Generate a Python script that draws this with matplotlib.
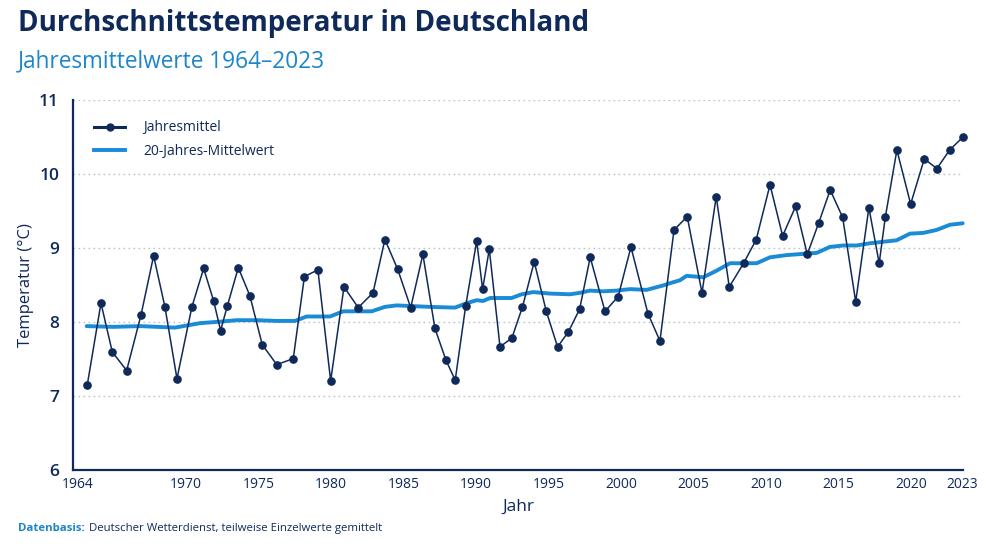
import matplotlib
matplotlib.use("Agg")
import matplotlib.pyplot as plt
from matplotlib.lines import Line2D

NAVY = "#0f2a5a"
BLUE = "#1a8bd6"
SUB_BLUE = "#1d86c9"
GRID = "#b9c2cf"

# annual means (positions, in year units)
years = [1963.19, 1964.14, 1964.92, 1965.91, 1966.90, 1967.77, 1968.55, 1969.38,
         1970.41, 1971.22, 1971.91, 1972.39, 1972.85, 1973.61, 1974.41, 1975.26,
         1976.26, 1977.40, 1978.17, 1979.10, 1979.98, 1980.90, 1981.88, 1982.90,
         1983.72, 1984.60, 1985.50, 1986.34, 1987.17, 1987.93, 1988.57, 1989.29,
         1990.05, 1990.46, 1990.92, 1991.66, 1992.48, 1993.21, 1994.02, 1994.85,
         1995.63, 1996.37, 1997.15, 1997.88, 1998.90, 1999.81, 2000.69, 2001.86,
         2002.69, 2003.66, 2004.57, 2005.59, 2006.57, 2007.47, 2008.46, 2009.33,
         2010.28, 2011.15, 2012.05, 2012.85, 2013.63, 2014.43, 2015.29, 2016.19,
         2017.10, 2017.81, 2018.23, 2019.03, 2019.98, 2020.92, 2021.79, 2022.67,
         2023.61]
temps = [7.14, 8.25, 7.59, 7.34, 8.09, 8.89, 8.20, 7.23,
         8.20, 8.72, 8.28, 7.88, 8.21, 8.73, 8.35, 7.69,
         7.42, 7.50, 8.61, 8.70, 7.20, 8.47, 8.19, 8.39,
         9.11, 8.71, 8.19, 8.91, 7.91, 7.48, 7.21, 8.21,
         9.09, 8.44, 8.98, 7.66, 7.78, 8.20, 8.81, 8.14,
         7.66, 7.86, 8.17, 8.87, 8.14, 8.34, 9.01, 8.11,
         7.74, 9.24, 9.42, 8.39, 9.69, 8.47, 8.79, 9.11,
         9.85, 9.16, 9.56, 8.91, 9.33, 9.78, 9.41, 8.27,
         9.54, 8.79, 9.41, 10.32, 9.59, 10.20, 10.07, 10.32,
         10.50]

# 20-year running mean
trend_years = [1963.15, 1964.97, 1966.83, 1969.24, 1970.97, 1972.34, 1973.50, 1974.88,
               1976.26, 1977.52, 1978.32, 1979.93, 1980.85, 1982.81, 1983.72, 1984.53,
               1986.83, 1988.55, 1989.36, 1990.05, 1990.50, 1990.97, 1992.46, 1993.15,
               1993.95, 1995.10, 1996.48, 1997.17, 1997.86, 1998.78, 1999.70, 2000.62,
               2001.77, 2002.92, 2003.38, 2004.07, 2004.53, 2005.68, 2006.60, 2007.52,
               2009.36, 2010.28, 2011.43, 2012.81, 2013.50, 2014.41, 2015.33, 2016.26,
               2017.17, 2018.09, 2019.01, 2019.93, 2020.85, 2021.77, 2022.69, 2023.57]
trend_temps = [7.94, 7.93, 7.94, 7.92, 7.98, 8.00, 8.02, 8.02,
               8.01, 8.01, 8.07, 8.07, 8.14, 8.14, 8.20, 8.22,
               8.20, 8.19, 8.25, 8.29, 8.28, 8.32, 8.32, 8.37,
               8.40, 8.38, 8.37, 8.39, 8.42, 8.41, 8.42, 8.44,
               8.43, 8.49, 8.52, 8.56, 8.62, 8.60, 8.69, 8.79,
               8.79, 8.87, 8.90, 8.92, 8.93, 9.01, 9.03, 9.03,
               9.06, 9.08, 9.10, 9.19, 9.20, 9.24, 9.31, 9.33]

tick_pos = [1962.55, 1970, 1975, 1980, 1985, 1990, 1995, 2000, 2005, 2010, 2015, 2020, 2023.5]
tick_labels = ["1964", "1970", "1975", "1980", "1985", "1990", "1995", "2000",
               "2005", "2010", "2015", "2020", "2023"]
y_ticks = [6, 7, 8, 9, 10, 11]

plt.rcParams["font.family"] = ["Open Sans", "DejaVu Sans"]

fig = plt.figure(figsize=(10, 5.48), dpi=100)
ax = fig.add_axes([0.073, 0.143, 0.890, 0.675])

for y in y_ticks[1:]:
    ax.axhline(y, color=GRID, lw=1.0, ls=(0, (1.2, 2.4)), zorder=1)

ax.plot(trend_years, trend_temps, color=BLUE, lw=2.8, zorder=3,
        solid_capstyle="round", clip_on=False)
ax.plot(years, temps, color=NAVY, lw=1.1, marker="o", ms=5.2, zorder=4, clip_on=False)

ax.set_xlim(1962.21, 2023.59)
ax.set_ylim(6, 11)
ax.set_xticks(tick_pos)
ax.set_xticklabels(tick_labels)
ax.set_yticks(y_ticks)
ax.tick_params(axis="both", length=0, colors=NAVY)
ax.tick_params(axis="x", labelsize=10, pad=5)
ax.tick_params(axis="y", labelsize=12.5, pad=10)
for lab in ax.get_yticklabels():
    lab.set_fontweight("semibold")

for side in ["top", "right"]:
    ax.spines[side].set_visible(False)
for side in ["left", "bottom"]:
    ax.spines[side].set_color(NAVY)
    ax.spines[side].set_linewidth(1.6)

ax.set_xlabel("Jahr", fontsize=12.5, color=NAVY, labelpad=5)
ax.set_ylabel("Temperatur (°C)", fontsize=12, color=NAVY, labelpad=4)

handles = [Line2D([], [], color=NAVY, lw=2.2, marker="o", ms=5),
           Line2D([], [], color=BLUE, lw=2.8)]
ax.legend(handles, ["Jahresmittel", "20-Jahres-Mittelwert"], loc="upper left",
          bbox_to_anchor=(0.01, 0.978), frameon=False, fontsize=10, handlelength=2.2,
          handletextpad=1.3, labelspacing=0.6, labelcolor=NAVY)

fig.text(0.018, 0.958, "Durchschnittstemperatur in Deutschland", fontsize=20,
         fontweight="bold", color=NAVY, va="center", ha="left")
fig.text(0.018, 0.888, "Jahresmittelwerte 1964\u20132023", fontsize=16.3,
         color=SUB_BLUE, va="center", ha="left")
t = fig.text(0.018, 0.035, "Datenbasis:", fontsize=8.2, fontweight="bold",
             color=SUB_BLUE, va="center", ha="left")
fig.canvas.draw()
bb = t.get_window_extent()
x1 = fig.transFigure.inverted().transform((bb.x1, bb.y0))[0]
fig.text(x1 + 0.004, 0.035, "Deutscher Wetterdienst, teilweise Einzelwerte gemittelt",
         fontsize=8.2, color=NAVY, va="center", ha="left")

fig.savefig("out.png", dpi=100)
